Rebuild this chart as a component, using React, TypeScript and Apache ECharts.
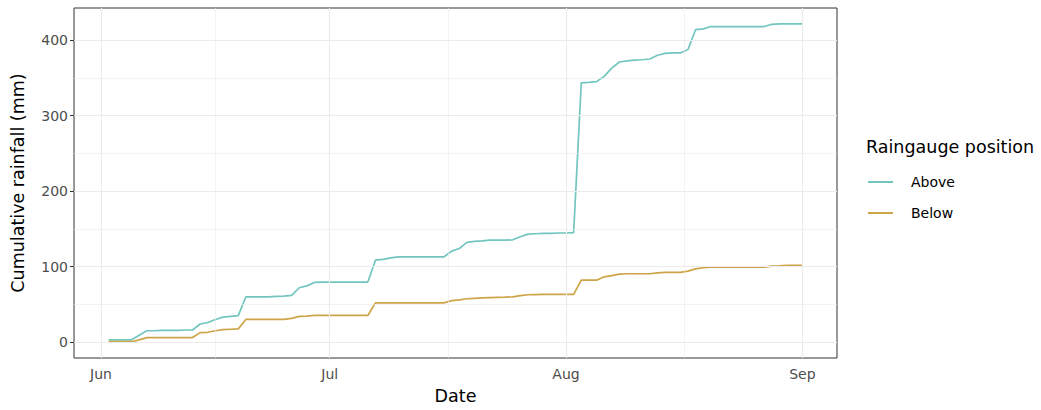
import { useEffect, useRef } from "react";
import * as echarts from "echarts";

// Daily cumulative rainfall, starting 2 June, one value per day
const startDate = "2021-06-02";
const seriesNames = ["Above", "Below"];
const above = [
  3, 3, 3, 3, 9, 15, 15, 15.5, 15.5, 15.5,
  16, 16, 24, 26, 30, 33, 34, 35, 60, 60,
  60, 60, 60.5, 61, 62, 72, 74.5, 79, 79.5, 79.5,
  79.5, 79.5, 79.5, 79.5, 79.5, 108.5, 109.5, 111.5, 113, 113,
  113, 113, 113, 113, 113, 120.5, 124, 132, 133.5, 134,
  135, 135, 135, 135.5, 139.5, 143, 143.5, 144, 144, 144.5,
  144.5, 145, 343.5, 344, 345, 352, 363, 371, 372.5, 373.5,
  374, 375, 380, 382.5, 383, 383, 387.5, 414, 415, 418,
  418, 418, 418, 418, 418, 418, 418, 421, 421.5, 421.5,
  421.5, 421.5,
];
const below = [
  0.5, 0.5, 0.5, 0.5, 3, 6, 6, 6, 6, 6,
  6, 6, 12.5, 13, 15, 16.5, 17, 17.5, 30, 30,
  30, 30, 30, 30, 31.5, 34, 34.5, 35.3, 35.3, 35.3,
  35.3, 35.3, 35.3, 35.3, 35.3, 52, 52, 52, 52, 52,
  52, 52, 52, 52, 52, 55, 56, 57.4, 58, 58.5,
  59, 59.3, 59.6, 60, 61.5, 62.7, 63, 63.2, 63.2, 63.2,
  63.2, 63.2, 82, 82, 82, 86.5, 88, 90, 90.5, 90.5,
  90.5, 90.5, 91.8, 92.3, 92.3, 92.3, 94, 97, 98.5, 99.3,
  99.3, 99.3, 99.3, 99.3, 99.3, 99.3, 99.3, 100.6, 101, 101.6,
  101.6, 101.6,
];
const monthTicks = ["2021-06-01", "2021-07-01", "2021-08-01", "2021-09-01"];
const monthLabels = ["Jun", "Jul", "Aug", "Sep"];
const yTicks = [0, 100, 200, 300, 400];
const yMinor = [50, 150, 250, 350];

const colors = ["#72C6BF", "#CDA448"];
const FONT = "DejaVu Sans";
const DAY = 86400000;

export default function App() {
  const ref = useRef<HTMLDivElement>(null);

  useEffect(() => {
    if (!ref.current) return;
    const chart = echarts.init(ref.current, undefined, { renderer: "svg" });

    // x values are days since 1970-01-01 (UTC)
    const toDay = (s: string) => Date.parse(s + "T00:00:00Z") / DAY;
    const d0 = toDay(startDate);
    const dates = above.map((_, i) => d0 + i);
    const first = dates[0];
    const last = dates[dates.length - 1];
    const span = last - first;
    const xMin = first - 0.05 * span;
    const xMax = last + 0.05 * span;
    const yMaxData = Math.max(...above, ...below);
    const yMin = -0.05 * yMaxData;
    const yMax = yMaxData * 1.05;

    const majorX = monthTicks.map(toDay);
    const minorX: number[] = [];
    for (let i = 0; i < majorX.length - 1; i++) minorX.push((majorX[i] + majorX[i + 1]) / 2);

    const gridColor = "#EBEBEB";
    const gridLines = [
      ...minorX.map((v) => ({ xAxis: v, lineStyle: { color: gridColor, width: 0.6, type: "solid" } })),
      ...yMinor.map((v) => ({ yAxis: v, lineStyle: { color: gridColor, width: 0.6, type: "solid" } })),
      ...majorX.map((v) => ({ xAxis: v, lineStyle: { color: gridColor, width: 1.1, type: "solid" } })),
      ...yTicks.map((v) => ({ yAxis: v, lineStyle: { color: gridColor, width: 1.1, type: "solid" } })),
    ];

    const seriesData = [above, below];

    chart.setOption({
      animation: false,
      textStyle: { fontFamily: FONT },
      title: {
        text: "Raingauge position",
        left: 861,
        top: 133,
        textStyle: { fontFamily: FONT, fontSize: 17.5, fontWeight: "normal", color: "#000" },
      },
      legend: {
        data: seriesNames,
        orient: "vertical",
        left: 868,
        top: 173,
        padding: 0,
        itemWidth: 25,
        itemHeight: 2,
        itemGap: 13,
        icon: "rect",
        textStyle: { fontFamily: FONT, fontSize: 14, color: "#000", lineHeight: 18, padding: [0, 0, 0, 13] },
      },
      grid: {
        left: 74,
        right: 1041 - 837,
        top: 8,
        bottom: 410 - 358,
        show: true,
        borderColor: "#333333",
        borderWidth: 1,
        backgroundColor: "#fff",
      },
      xAxis: {
        type: "value",
        min: xMin,
        max: xMax,
        name: "Date",
        nameLocation: "middle",
        nameGap: 29,
        nameTextStyle: { fontFamily: FONT, fontSize: 17.5, color: "#000" },
        axisLine: { show: false },
        axisTick: { show: true, length: 4, lineStyle: { color: "#333333" }, customValues: majorX },
        axisLabel: {
          customValues: majorX,
          formatter: (v: number) => {
            const i = majorX.findIndex((m) => Math.abs(m - v) < 0.01);
            return i >= 0 ? monthLabels[i] : "";
          },
          fontFamily: FONT,
          fontSize: 14,
          color: "#4D4D4D",
          margin: 9,
        },
        splitLine: { show: false },
      },
      yAxis: {
        type: "value",
        min: yMin,
        max: yMax,
        name: "Cumulative rainfall (mm)",
        nameLocation: "middle",
        nameRotate: 90,
        nameGap: 47,
        nameTextStyle: { fontFamily: FONT, fontSize: 17.5, color: "#000" },
        axisLine: { show: false },
        axisTick: { show: true, length: 4, lineStyle: { color: "#333333" }, customValues: yTicks },
        axisLabel: {
          customValues: yTicks,
          fontFamily: FONT,
          fontSize: 14,
          color: "#4D4D4D",
          margin: 6,
        },
        splitLine: { show: false },
      },
      series: [
        {
          name: "__grid",
          type: "line",
          data: [],
          z: 1,
          silent: true,
          markLine: {
            silent: true,
            symbol: ["none", "none"],
            label: { show: false },
            emphasis: { disabled: true },
            data: gridLines,
          },
        },
        ...seriesNames.map((name, k) => ({
          name,
          type: "line",
          z: 3,
          showSymbol: false,
          symbol: "none",
          color: colors[k],
          lineStyle: { width: 1.7, color: colors[k] },
          data: dates.map((t, i) => [t, seriesData[k][i]]),
        })),
      ],
    });

    return () => chart.dispose();
  }, []);

  return (
    <div
      ref={ref}
      style={{ position: "fixed", left: 0, top: 0, width: 1041, height: 410, background: "#fff" }}
    />
  );
}
